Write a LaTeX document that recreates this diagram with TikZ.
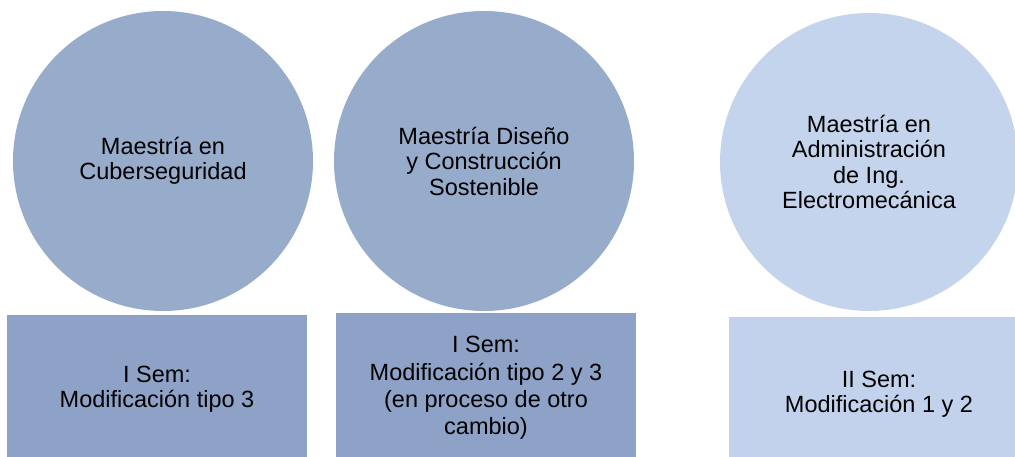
\documentclass[tikz,border=0pt]{standalone}
\usepackage{fontspec}
\setmainfont{Liberation Sans}
\definecolor{circdark}{HTML}{97ABCB}
\definecolor{rectdark}{HTML}{8EA2C7}
\definecolor{circlight}{HTML}{C5D4ED}
\definecolor{rectlight}{HTML}{C3D2EC}
\begin{document}
\begin{tikzpicture}[x=1pt,y=-1pt,
  txt/.style={font=\fontsize{23.5}{25.5}\selectfont, align=center, text=black},
  bubble/.style={txt, circle, minimum size=300pt, inner sep=0pt, draw=none},
  panel/.style={txt, rectangle, minimum width=300pt, inner sep=0pt, draw=none}]
\useasboundingbox (0,0) rectangle (1015,457);
\clip (0,0) rectangle (1015,457);
\node[bubble, fill=circdark] (c1) at (163,161) {Maestría en\\Cuberseguridad};
\node[bubble, fill=circdark] (c2) at (484,161) {Maestría Diseño\\y Construcción\\Sostenible};
\node[bubble, fill=circlight, minimum size=298pt] (c3) at (869,162) {Maestría en\\Administración\\de Ing.\\Electromecánica};
\node[panel, fill=rectdark, minimum height=148pt] (r1) at (157,389) {I Sem:\\Modificación tipo 3};
\node[panel, fill=rectdark, minimum height=150pt, font=\fontsize{23.5}{27.3}\selectfont] (r2) at (486,388) {I Sem:\\Modificación tipo 2 y 3\\(en proceso de otro\\cambio)};
\node[panel, fill=rectlight, minimum height=154pt] (r3) at (879,394) {II Sem:\\Modificación 1 y 2};
\end{tikzpicture}
\end{document}
